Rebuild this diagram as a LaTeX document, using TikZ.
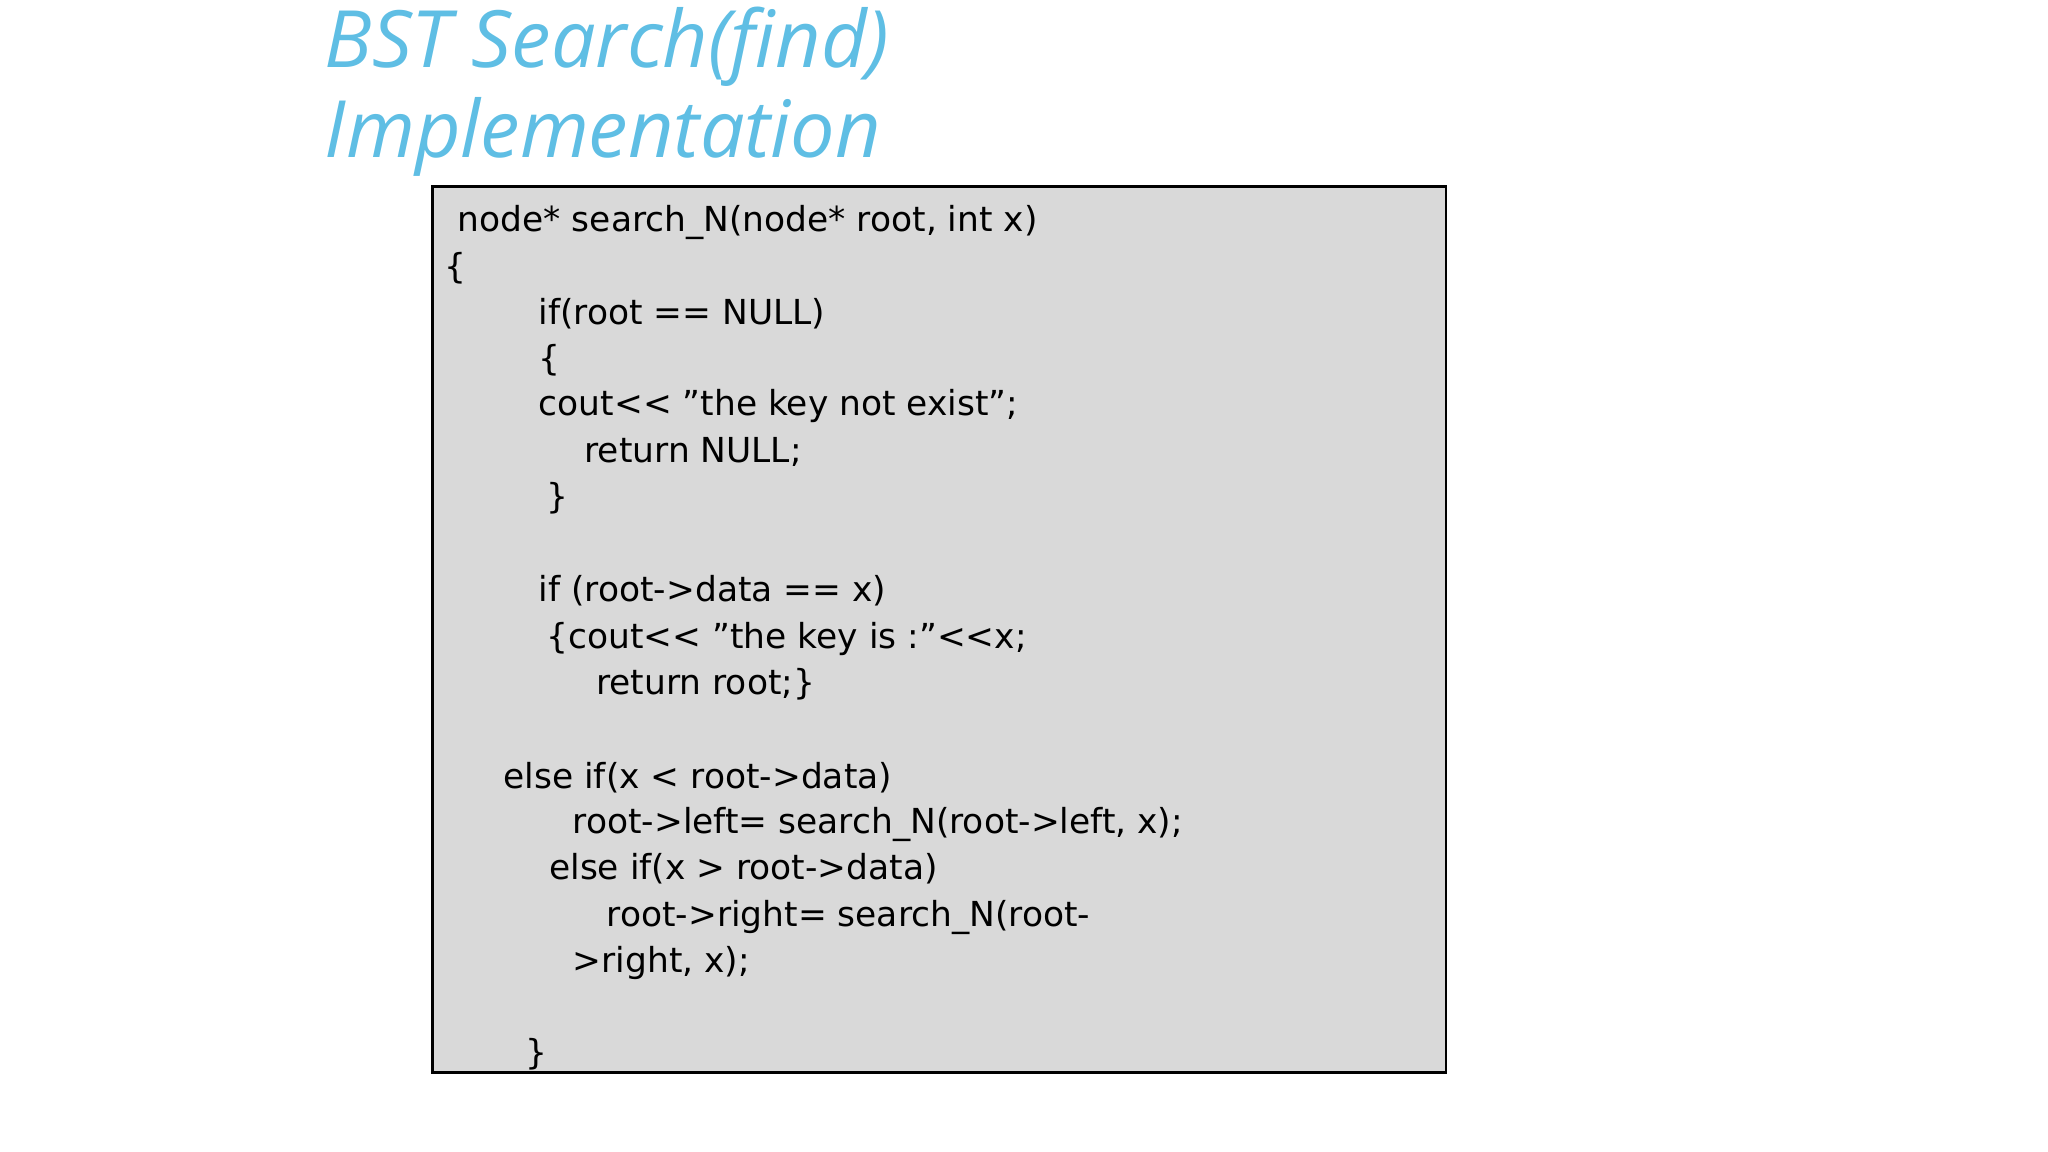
\documentclass[tikz,border=0pt]{standalone}
\usepackage{fontspec}
\setmainfont{DejaVu Sans}
\newfontfamily\titlefont{Open Sans}
\definecolor{titleblue}{RGB}{95,190,228}
\definecolor{boxgray}{RGB}{217,217,217}
\begin{document}
\begin{tikzpicture}[x=0.013061cm,y=-0.013061cm,
  code/.style={anchor=mid west,inner sep=0pt,font=\fontsize{9.8pt}{12pt}\selectfont},
  ttl/.style={anchor=mid west,inner sep=0pt,text=titleblue,font=\titlefont\itshape\fontsize{22.5pt}{27pt}\selectfont}]
\useasboundingbox (0,0) rectangle (1568,882);
\node[draw=black,fill=boxgray,line width=0.8pt,minimum width=776*0.013061cm,minimum height=678*0.013061cm,anchor=north west,inner sep=0pt] (box) at (330,142) {};
\node[ttl] (t1) at (248,44) {BST Search(find)};
\node[ttl] (t2) at (248,113) {Implementation};
\node[code] (l1) at (350,170) {node* search\_N(node* root, int x)};
\node[code] (l2) at (340,206) {\{};
\node[code] (l3) at (412,241) {if(root == NULL)};
\node[code] (l4) at (412,276) {\{};
\node[code] (l5) at (412,311) {cout<{}< \char34 the key not exist\char34;};
\node[code] (l6) at (447,347) {return NULL;};
\node[code] (l7) at (418,382) {\}};
\node[code] (l9) at (412,453) {if (root->data == x)};
\node[code] (l10) at (418,489) {\{cout<{}< \char34 the key is :\char34 <{}<x;};
\node[code] (l11) at (456,524) {return root;\}};
\node[code] (l13) at (385,596) {else if(x < root->data)};
\node[code] (l14) at (438,631) {root->left= search\_N(root->left, x);};
\node[code] (l15) at (420,666) {else if(x > root->data)};
\node[code] (l16) at (464,702) {root->right= search\_N(root-};
\node[code] (l17) at (438,737) {>right, x);};
\node[code] (l19) at (402,808) {\}};
\end{tikzpicture}
\end{document}
